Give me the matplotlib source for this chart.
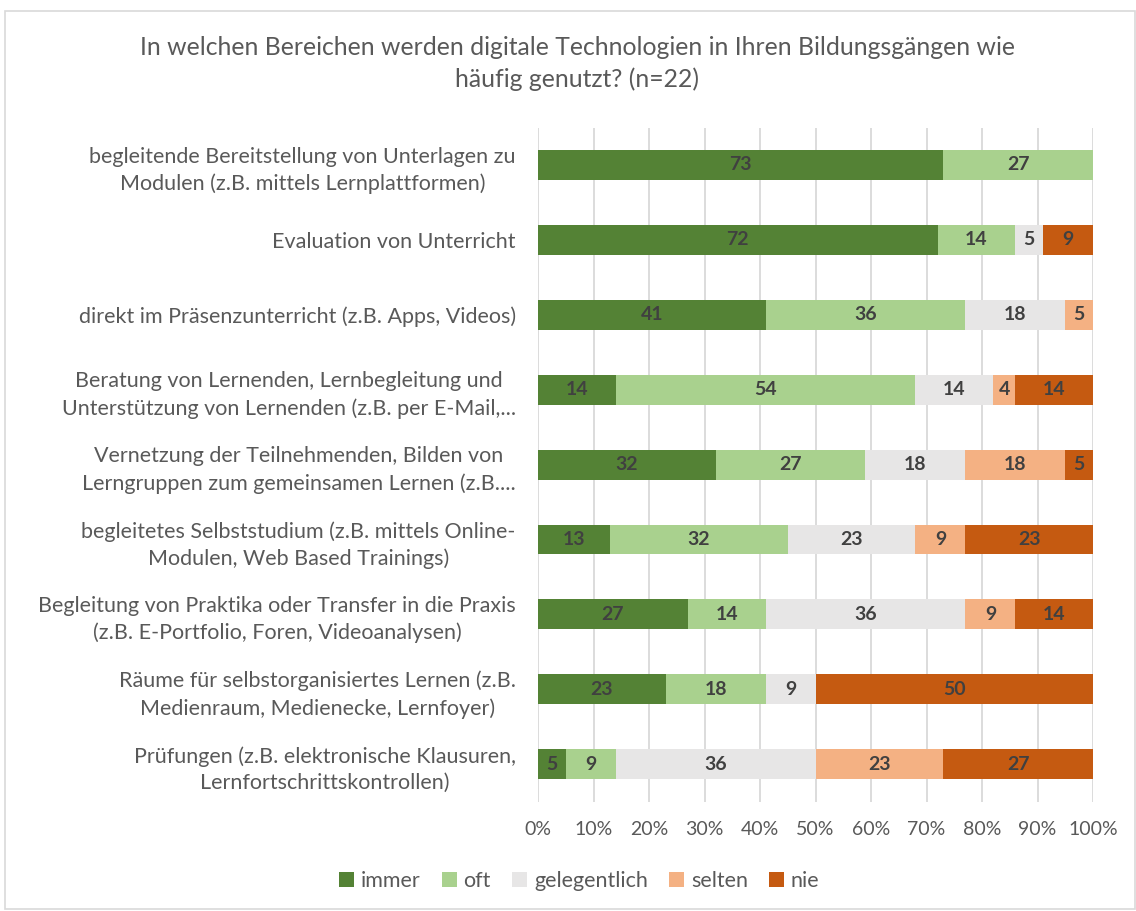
import matplotlib.pyplot as plt
import numpy as np
from matplotlib.patches import Rectangle

plt.rcParams['font.family'] = ['Lato', 'DejaVu Sans']

# data (percent, n=22)
categories = [
    'begleitende Bereitstellung von Unterlagen zu\nModulen (z.B. mittels Lernplattformen)',
    'Evaluation von Unterricht',
    'direkt im Präsenzunterricht (z.B. Apps, Videos)',
    'Beratung von Lernenden, Lernbegleitung und\nUnterstützung von Lernenden (z.B. per E-Mail,...',
    'Vernetzung der Teilnehmenden, Bilden von\nLerngruppen zum gemeinsamen Lernen (z.B....',
    'begleitetes Selbststudium (z.B. mittels Online-\nModulen, Web Based Trainings)',
    'Begleitung von Praktika oder Transfer in die Praxis\n(z.B. E-Portfolio, Foren, Videoanalysen)',
    'Räume für selbstorganisiertes Lernen (z.B.\nMedienraum, Medienecke, Lernfoyer)',
    'Prüfungen (z.B. elektronische Klausuren,\nLernfortschrittskontrollen)',
]
series = ['immer', 'oft', 'gelegentlich', 'selten', 'nie']
immer = [73, 72, 41, 14, 32, 13, 27, 23, 5]
oft = [27, 14, 36, 54, 27, 32, 14, 18, 9]
gelegentlich = [0, 5, 18, 14, 18, 23, 36, 9, 36]
selten = [0, 0, 5, 4, 18, 9, 9, 0, 23]
nie = [0, 9, 0, 14, 5, 23, 14, 50, 27]
colors = ['#548235', '#A9D18E', '#E7E6E6', '#F4B183', '#C55A11']

values = [immer, oft, gelegentlich, selten, nie]

fig = plt.figure(figsize=(11.36, 9.11), dpi=100)
ax = fig.add_axes([0.4736, 0.12, 0.4886, 0.74])

y = np.arange(len(categories))
left = np.zeros(len(categories))
for name, vals, col in zip(series, values, colors):
    vals = np.array(vals, dtype=float)
    ax.barh(y, vals, left=left, height=0.4, color=col, label=name, zorder=3)
    for yi, l, v in zip(y, left, vals):
        if v > 0:
            ax.text(l + v / 2, yi, f'{int(v)}', ha='center', va='center',
                    fontsize=14, fontweight='bold', color='#404040', zorder=4)
    left += vals

ax.set_xlim(0, 100)
ax.set_ylim(len(categories) - 0.5, -0.5)
ax.set_xticks(np.arange(0, 101, 10))
ax.set_xticklabels([f'{t}%' for t in range(0, 101, 10)], fontsize=14, color='#595959')
ax.set_yticks(y)
ax.set_yticklabels(categories, fontsize=15.5, color='#595959', multialignment='center',
                   linespacing=1.4)
ax.tick_params(axis='both', length=0)
ax.tick_params(axis='x', pad=14)
ax.tick_params(axis='y', pad=16)
ax.grid(axis='x', color='#D9D9D9', linewidth=1.3, zorder=0)
for s in ax.spines.values():
    s.set_visible(False)

fig.text(0.508, 0.948, 'In welchen Bereichen werden digitale Technologien in Ihren Bildungsgängen wie',
         ha='center', va='center', fontsize=17.8, color='#595959')
fig.text(0.508, 0.913, 'häufig genutzt? (n=22)',
         ha='center', va='center', fontsize=17.8, color='#595959')

ax.legend(loc='center', bbox_to_anchor=(0.51, 0.033), bbox_transform=fig.transFigure,
          ncol=5, frameon=False, fontsize=15.5, handlelength=0.7, handleheight=0.7,
          handletextpad=0.3, columnspacing=1.0, labelcolor='#595959')

fig.add_artist(Rectangle((0.004, 0.002), 0.995, 0.986, transform=fig.transFigure,
                         fill=False, edgecolor='#D9D9D9', linewidth=1.2))

fig.savefig('out.png', dpi=100)
